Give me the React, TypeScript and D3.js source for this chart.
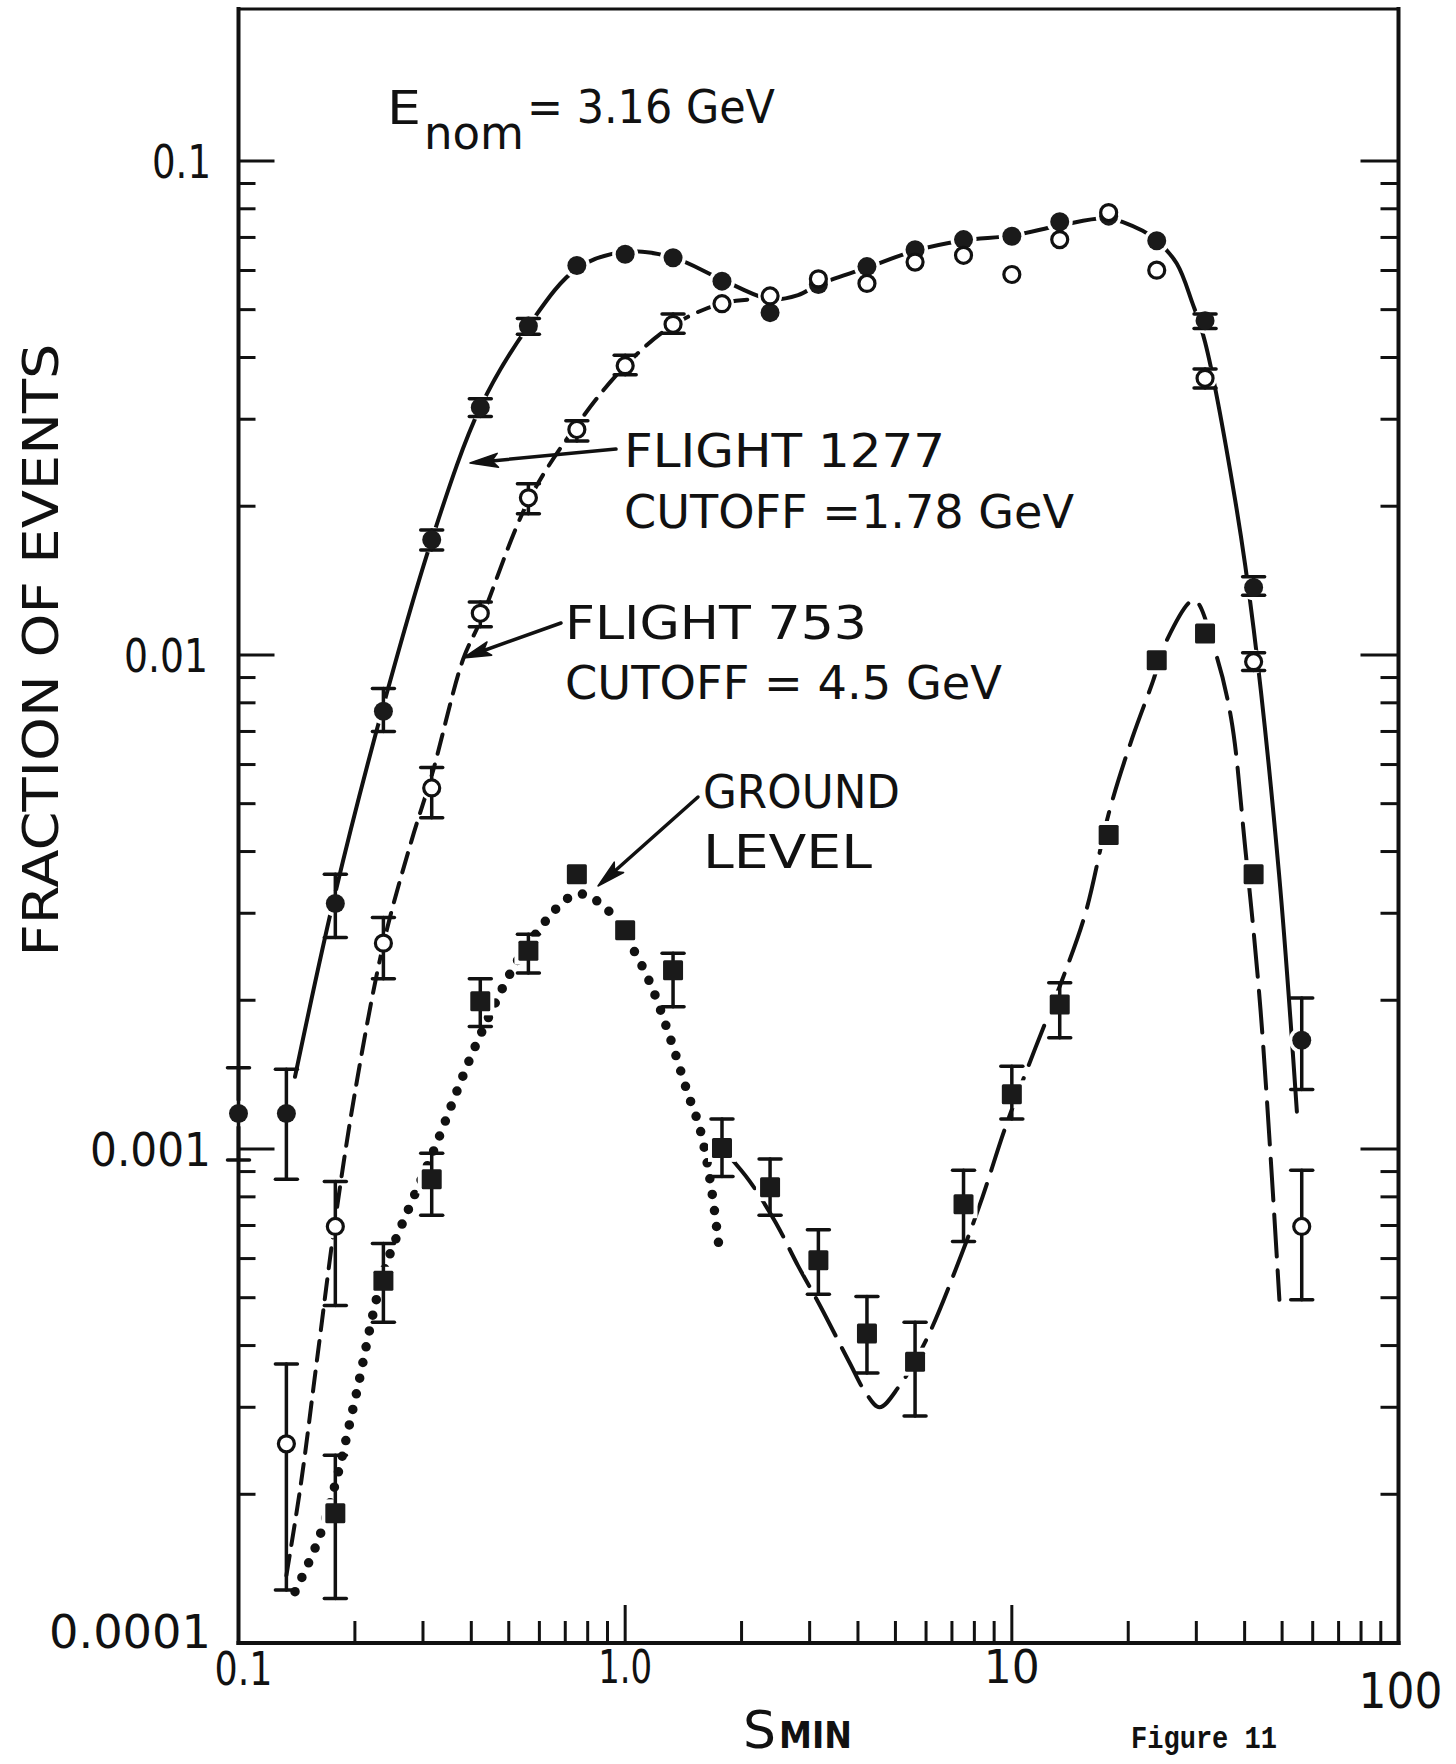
import React from 'react';
import * as d3 from 'd3';

// ---------------- data ----------------
const sMin = [0.1, 0.133, 0.178, 0.237, 0.316, 0.422, 0.562, 0.75, 1.0, 1.33, 1.78, 2.37, 3.16, 4.22, 5.62, 7.5, 10, 13.3, 17.8, 23.7, 31.6, 42.2, 56.2];

const flight1277 = [0.00118, 0.00118, 0.00314, 0.00769, 0.0171, 0.0317, 0.0463, 0.0614, 0.0647, 0.0637, 0.0571, 0.0493, 0.0562, 0.0611, 0.0661, 0.0693, 0.0704, 0.0753, 0.0773, 0.0689, 0.0475, 0.0137, 0.00166];
const flight1277Lo = [0.00095, 0.000868, 0.00268, 0.0070, 0.0163, 0.0304, 0.0446, null, null, null, null, null, null, null, null, null, null, null, null, null, 0.0458, 0.0132, 0.00132];
const flight1277Hi = [0.00146, 0.00145, 0.0036, 0.00855, 0.0179, 0.033, 0.048, null, null, null, null, null, null, null, null, null, null, null, null, null, 0.049, 0.0144, 0.00202];

const flight753 = [null, 0.000253, 0.000697, 0.00261, 0.00538, 0.01214, 0.0208, 0.0286, 0.0385, 0.0467, 0.0514, 0.0533, 0.0577, 0.0565, 0.0624, 0.0644, 0.0589, 0.0693, 0.0786, 0.0601, 0.0363, 0.00969, 0.000697];
const flight753Lo = [null, 0.000128, 0.000482, 0.00221, 0.00468, 0.0114, 0.0193, 0.0271, 0.0369, 0.0448, null, null, null, null, null, null, null, null, null, null, 0.0347, 0.0093, 0.000495];
const flight753Hi = [null, 0.000367, 0.000859, 0.00294, 0.00592, 0.0128, 0.0222, 0.0298, 0.0404, 0.049, null, null, null, null, null, null, null, null, null, null, 0.0379, 0.0101, 0.000906];

const ground = [null, null, 0.000183, 0.000541, 0.000868, 0.00199, 0.00252, 0.0036, 0.00277, 0.0023, 0.001005, 0.000837, 0.000595, 0.000423, 0.000371, 0.000773, 0.00129, 0.00196, 0.00432, 0.00975, 0.01105, 0.0036, null];
const groundLo = [null, null, 0.000123, 0.000446, 0.000734, 0.00177, 0.00227, null, null, 0.00194, 0.00088, 0.000734, 0.000508, 0.000352, 0.000288, 0.00065, 0.00115, 0.00168, null, null, null, null, null];
const groundHi = [null, null, 0.00024, 0.000644, 0.00098, 0.00221, 0.00272, null, null, 0.00249, 0.00115, 0.000954, 0.000686, 0.000503, 0.000446, 0.000906, 0.00147, 0.00217, null, null, null, null, null];

// hand-drawn fitted curves (data units)
const fit1277X = [0.14, 0.178, 0.237, 0.316, 0.422, 0.562, 0.75, 1.0, 1.33, 1.78, 2.37, 2.8, 3.16, 4.22, 5.62, 7.5, 10, 13.3, 17.8, 21.8, 23.7, 26.7, 29.3, 31.6, 37.8, 42.2, 49.1, 54.6];
const fit1277Y = [0.0014, 0.0033, 0.0079, 0.0171, 0.0317, 0.0463, 0.0605, 0.0655, 0.0637, 0.0575, 0.0525, 0.0535, 0.0562, 0.0608, 0.0658, 0.069, 0.0706, 0.074, 0.0765, 0.0722, 0.069, 0.062, 0.0516, 0.043, 0.0206, 0.0113, 0.0036, 0.00119];

const fit753X = [0.133, 0.145, 0.16, 0.178, 0.2, 0.237, 0.28, 0.316, 0.381, 0.422, 0.562, 0.75, 1.0, 1.33, 1.78, 2.2];
const fit753Y = [0.000137, 0.00021, 0.00038, 0.00072, 0.0013, 0.0026, 0.0042, 0.0057, 0.0098, 0.0117, 0.0205, 0.0292, 0.0385, 0.0465, 0.0515, 0.0525];

const groundDotX = [0.14, 0.16, 0.178, 0.2, 0.237, 0.28, 0.316, 0.422, 0.562, 0.75, 0.88, 1.0, 1.15, 1.3, 1.45, 1.56, 1.66, 1.75];
const groundDotY = [0.000127, 0.00016, 0.00021, 0.00031, 0.00056, 0.00078, 0.00097, 0.0017, 0.0026, 0.00328, 0.0031, 0.0027, 0.0022, 0.0017, 0.0013, 0.0011, 0.00086, 0.00063];

const groundDashX = [1.85, 2.1, 2.45, 2.8, 3.2, 3.8, 4.2, 4.55, 5.1, 6.0, 7.4, 8.4, 9.6, 11.5, 13.5, 15.5, 17.9, 20.5, 23.2, 25.0, 29.6, 33.5, 36.9, 40.1, 44, 49.2];
const groundDashY = [0.00097, 0.00086, 0.00071, 0.00058, 0.00048, 0.00037, 0.00032, 0.0003, 0.00033, 0.00041, 0.00061, 0.0008, 0.0011, 0.0016, 0.0022, 0.003, 0.00485, 0.0068, 0.00887, 0.0106, 0.0129, 0.0102, 0.00745, 0.0041, 0.0019, 0.000495];

const yTickLabels = ['0.1', '0.01', '0.001', '0.0001'];
const yTickValues = [0.1, 0.01, 0.001, 0.0001];
const xTickLabels = ['0.1', '1.0', '10', '100'];
const xTickValues = [0.1, 1, 10, 100];

// ---------------- layout ----------------
const W = 1456;
const H = 1764;
const X0 = 238.5, X1 = 1398.5, Y0 = 1643, Y1 = 9;
const x = d3.scaleLog().domain([0.1, 100]).range([X0, X1]);
const y = d3.scaleLog().domain([1e-4, 0.203]).range([Y0, Y1]);

const FONT = 'DejaVu Sans, Liberation Sans, sans-serif';
const INK = '#111';

function pathOf(xs: number[], ys: number[]) {
  const pts = xs.map((v, i) => [v, ys[i]] as [number, number]);
  return d3.line<[number, number]>().x(d => x(d[0])).y(d => y(d[1])).curve(d3.curveCatmullRom.alpha(0.5))(pts) || '';
}

function Arrow({ x1, y1, x2, y2 }: { x1: number; y1: number; x2: number; y2: number }) {
  const dx = x2 - x1, dy = y2 - y1;
  const L = Math.hypot(dx, dy);
  const ux = dx / L, uy = dy / L;
  const hl = 28, hw = 7;
  const bx = x2 - ux * hl, by = y2 - uy * hl;
  const p = `M${x2},${y2} L${bx - uy * hw},${by + ux * hw} L${bx + ux * 6},${by + uy * 6} L${bx + uy * hw},${by - ux * hw} Z`;
  return (
    <g>
      <line x1={x1} y1={y1} x2={x2 - ux * 6} y2={y2 - uy * 6} stroke={INK} strokeWidth={3.5} strokeLinecap="round" />
      <path d={p} fill={INK} stroke={INK} strokeWidth={1.5} strokeLinejoin="round" />
    </g>
  );
}

function ErrorBars({ lo, hi, color = INK }: { lo: (number | null)[]; hi: (number | null)[]; color?: string }) {
  return (
    <g stroke={color} strokeWidth={3.5} strokeLinecap="round">
      {sMin.map((s, i) => {
        const a = lo[i], b = hi[i];
        if (a == null || b == null) return null;
        const cx = x(s);
        return (
          <g key={i}>
            <line x1={cx} x2={cx} y1={y(a)} y2={y(b)} />
            <line x1={cx - 11} x2={cx + 11} y1={y(a)} y2={y(a)} />
            <line x1={cx - 11} x2={cx + 11} y1={y(b)} y2={y(b)} />
          </g>
        );
      })}
    </g>
  );
}

export default function App() {
  // ticks
  const leftTicks: { v: number; major: boolean }[] = [];
  [-4, -3, -2, -1].forEach(e => {
    for (let m = 1; m <= 9; m++) {
      const v = m * Math.pow(10, e);
      if (v >= 0.2) continue;
      if (m === 1 && e === -4) continue;
      leftTicks.push({ v, major: m === 1 });
    }
  });
  const bottomTicks: { v: number; major: boolean }[] = [];
  [-1, 0, 1].forEach(e => {
    for (let m = 1; m <= 9; m++) {
      const v = m * Math.pow(10, e);
      if (m === 1 && e === -1) continue;
      bottomTicks.push({ v, major: m === 1 });
    }
  });

  const valid = (arr: (number | null)[]) => sMin.map((s, i) => ({ s, v: arr[i], i })).filter(d => d.v != null) as { s: number; v: number; i: number }[];

  const yLabelX = [211, 208, 211, 211];
  const yLabelDy = [17, 17, 17, 5];
  const yLabelLen = [59, 84, 121, 162];
  const xLabelDx = [5, 0, 0, 2];
  const xLabelY = [1685, 1683, 1683, 1708];
  const xLabelSize = [46, 46, 46, 50];
  const xLabelLen = [58, 54, 56, 84];

  return (
    <svg width={W} height={H} viewBox={`0 0 ${W} ${H}`} style={{ position: 'absolute', left: 0, top: 0, background: '#fff' }}>
      <rect x={0} y={0} width={W} height={H} fill="#fff" />

      {/* frame */}
      <g stroke={INK} strokeWidth={4} strokeLinecap="square">
        <line x1={X0} x2={X0} y1={Y1} y2={Y0} />
        <line x1={X1} x2={X1} y1={Y1} y2={Y0} />
        <line x1={X0} x2={X1} y1={Y1} y2={Y1} strokeWidth={3} />
        <line x1={X0} x2={X1} y1={Y0} y2={Y0} />
      </g>

      {/* ticks */}
      <g stroke={INK} strokeWidth={3}>
        {leftTicks.map((t, i) => (
          <g key={i}>
            <line x1={X0} x2={X0 + (t.major ? 36 : 17)} y1={y(t.v)} y2={y(t.v)} />
            <line x1={X1} x2={X1 - (t.major ? 38 : 18)} y1={y(t.v)} y2={y(t.v)} />
          </g>
        ))}
        {bottomTicks.map((t, i) => (
          <line key={i} x1={x(t.v)} x2={x(t.v)} y1={Y0} y2={Y0 - (t.major ? 38 : 22)} />
        ))}
      </g>

      {/* tick labels */}
      <g fontFamily={FONT} fill={INK} fontSize={46}>
        {yTickLabels.map((l, i) => (
          <text key={l} x={yLabelX[i]} y={y(yTickValues[i]) + yLabelDy[i]} textAnchor="end"
            textLength={yLabelLen[i]} lengthAdjust="spacingAndGlyphs">{l}</text>
        ))}
        {xTickLabels.map((l, i) => (
          <text key={l} x={x(xTickValues[i]) + xLabelDx[i]} y={xLabelY[i]} textAnchor="middle"
            fontSize={xLabelSize[i]} textLength={xLabelLen[i]} lengthAdjust="spacingAndGlyphs">{l}</text>
        ))}
      </g>

      {/* curves */}
      <g fill="none" stroke={INK} strokeWidth={4} strokeLinecap="round">
        <path d={pathOf(fit1277X, fit1277Y)} />
        <path d={pathOf(fit753X, fit753Y)} strokeDasharray="20 11" />
        <path d={pathOf(groundDotX, groundDotY)} strokeWidth={9.5} strokeDasharray="0 16" />
        <path d={pathOf(groundDashX, groundDashY)} strokeDasharray="42 14" />
      </g>

      {/* halos for breaks in curves */}
      <g fill="#fff">
        {valid(flight1277).map(d => <circle key={'h1' + d.i} cx={x(d.s)} cy={y(d.v)} r={13} />)}
        {valid(flight753).map(d => <circle key={'h2' + d.i} cx={x(d.s)} cy={y(d.v)} r={12} />)}
        {valid(ground).map(d => <rect key={'h3' + d.i} x={x(d.s) - 14} y={y(d.v) - 14} width={28} height={28} />)}
      </g>

      {/* error bars */}
      <ErrorBars lo={flight1277Lo} hi={flight1277Hi} />
      <ErrorBars lo={flight753Lo} hi={flight753Hi} />
      <ErrorBars lo={groundLo} hi={groundHi} />

      {/* markers */}
      <g fill="#1a1a1a">
        {valid(flight1277).map(d => <circle key={'m1' + d.i} cx={x(d.s)} cy={y(d.v)} r={9.5} />)}
      </g>
      <g fill="#fff" stroke={INK} strokeWidth={3.2}>
        {valid(flight753).map(d => <circle key={'m2' + d.i} cx={x(d.s)} cy={y(d.v)} r={8} />)}
      </g>
      <g fill="#1a1a1a">
        {valid(ground).map(d => <rect key={'m3' + d.i} x={x(d.s) - 10} y={y(d.v) - 10} width={20} height={20} rx={1.5} />)}
      </g>

      {/* annotations */}
      <g fontFamily={FONT} fill={INK}>
        <text x={387} y={124} fontSize={46} textLength={34} lengthAdjust="spacingAndGlyphs">E</text>
        <text x={424} y={149} fontSize={46} textLength={100} lengthAdjust="spacingAndGlyphs">nom</text>
        <text x={527} y={123} fontSize={46} textLength={248} lengthAdjust="spacingAndGlyphs">= 3.16 GeV</text>

        <text x={624} y={467} fontSize={46} textLength={321} lengthAdjust="spacingAndGlyphs">FLIGHT 1277</text>
        <text x={624} y={528} fontSize={46} textLength={450} lengthAdjust="spacingAndGlyphs">CUTOFF =1.78 GeV</text>
        <text x={565} y={639} fontSize={46} textLength={302} lengthAdjust="spacingAndGlyphs">FLIGHT 753</text>
        <text x={565} y={699} fontSize={46} textLength={437} lengthAdjust="spacingAndGlyphs">CUTOFF = 4.5 GeV</text>
        <text x={703} y={808} fontSize={46} textLength={197} lengthAdjust="spacingAndGlyphs">GROUND</text>
        <text x={703} y={868} fontSize={46} textLength={169} lengthAdjust="spacingAndGlyphs">LEVEL</text>

        <text transform="translate(58,650) rotate(-90)" textAnchor="middle" fontSize={49} textLength={613} lengthAdjust="spacingAndGlyphs">FRACTION OF EVENTS</text>

        <text x={743} y={1748} fontSize={52} textLength={33} lengthAdjust="spacingAndGlyphs">S</text>
        <text x={779} y={1748} fontSize={38} fontWeight="bold" textLength={73} lengthAdjust="spacingAndGlyphs">MIN</text>

        <text x={1131} y={1748} fontFamily="Liberation Mono, DejaVu Sans Mono, monospace" fontWeight="bold" fontSize={31} textLength={146} lengthAdjust="spacingAndGlyphs">Figure 11</text>
      </g>

      <Arrow x1={616} y1={449} x2={470} y2={463} />
      <Arrow x1={561} y1={623} x2={463} y2={658} />
      <Arrow x1={698} y1={797} x2={598} y2={886} />
    </svg>
  );
}
